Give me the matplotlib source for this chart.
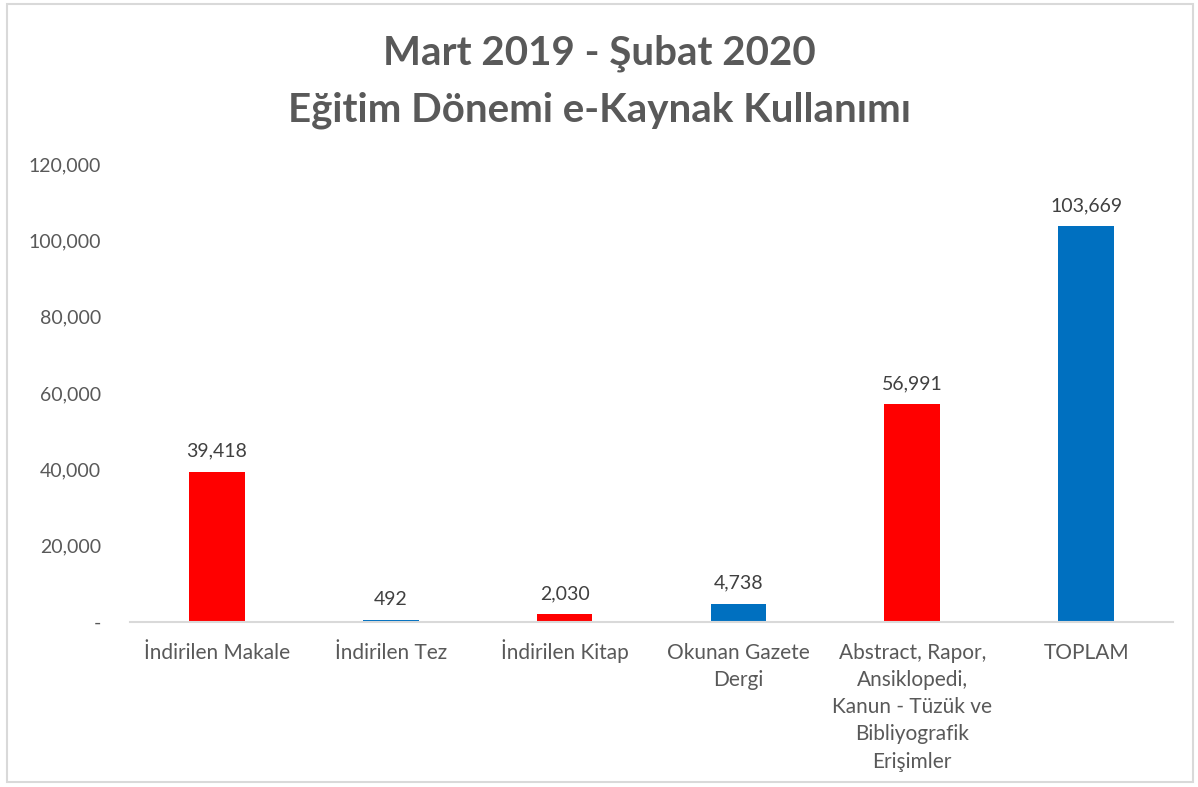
import matplotlib
matplotlib.use("Agg")
import matplotlib.pyplot as plt
from matplotlib.patches import Rectangle
from matplotlib.ticker import FuncFormatter
from matplotlib.transforms import ScaledTranslation

categories = ["İndirilen Makale", "İndirilen Tez", "İndirilen Kitap",
              "Okunan Gazete\nDergi",
              "Abstract, Rapor,\nAnsiklopedi,\nKanun - Tüzük ve\nBibliyografik\nErişimler",
              "TOPLAM"]
values = [39418, 492, 2030, 4738, 56991, 103669]
colors = ["#FF0000", "#0070C0", "#FF0000", "#0070C0", "#FF0000", "#0070C0"]
title = "Mart 2019 - Şubat 2020\nEğitim Dönemi e-Kaynak Kullanımı"

plt.rcParams['font.family'] = ['Lato', 'DejaVu Sans']

fig = plt.figure(figsize=(11.98, 7.87), dpi=100)
W, H = 1198, 787
left, right, top, bottom = 130, 1173, 164, 622
ax = fig.add_axes([left / W, 1 - bottom / H, (right - left) / W, (bottom - top) / H])

x = list(range(len(values)))
bars = ax.bar(x, values, width=0.32, color=colors)
for xi, v in zip(x, values):
    ax.text(xi, v + 3200, f"{v:,}", ha="center", va="bottom", fontsize=14, color="#404040")

ax.set_xlim(-0.5, len(values) - 0.5)
ax.set_ylim(0, 120000)
ax.set_yticks(range(0, 120001, 20000))
ax.yaxis.set_major_formatter(FuncFormatter(lambda v, p: "-" if v == 0 else f"{int(v):,}"))
ax.set_xticks(x)
labels = ax.set_xticklabels(categories, fontsize=15, color="#595959", linespacing=1.45, va="top")
ax.tick_params(axis="y", length=0, pad=21, labelsize=14, labelcolor="#595959")
ax.tick_params(axis="x", length=0, pad=15)
# single-line labels: align on baseline so they sit on the same line
for lab, cat in zip(labels, categories):
    if "\n" not in cat:
        lab.set_va("baseline")
        lab.set_transform(lab.get_transform() + ScaledTranslation(0, -16 / 100, fig.dpi_scale_trans))
for s in ["top", "right", "left"]:
    ax.spines[s].set_visible(False)
ax.spines["bottom"].set_color("#D9D9D9")
ax.spines["bottom"].set_linewidth(1.5)

fig.text(0.5, 1 - 82 / H, title, ha="center", va="center", fontsize=29, fontweight="bold",
         color="#595959", linespacing=1.65)

fig.patches.append(Rectangle((7 / W, 1 - 782 / H), (1193 - 7) / W, (782 - 4) / H,
                             transform=fig.transFigure, fill=False, edgecolor="#D9D9D9", linewidth=1.5))

fig.savefig("out.png", dpi=100)
